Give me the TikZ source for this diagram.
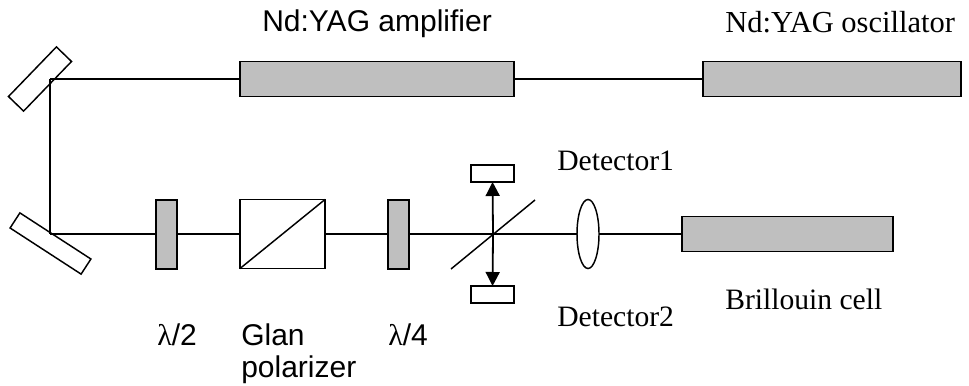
\documentclass[tikz,border=0pt]{standalone}
\usepackage{fontspec}
\usetikzlibrary{arrows.meta, shapes.geometric}
\setmainfont{Liberation Sans}
\newfontfamily\serifface{Liberation Serif}
\definecolor{rodgray}{gray}{0.75}
\tikzset{
	part/.style={draw=black, line width=1.3pt, inner sep=0pt, outer sep=0pt},
	rod/.style={part, fill=rodgray, minimum width=#1, minimum height=26.25pt},
	plate/.style={part, fill=rodgray, line width=1.5pt, minimum width=15.75pt, minimum height=51.75pt},
	mirror/.style={part, fill=white, line width=1.1pt},
	detbox/.style={part, fill=white, line width=1.1pt, minimum width=32.25pt, minimum height=12.75pt},
	sanslabel/.style={inner sep=0pt, anchor=base west, font=\fontsize{22.5}{26}\selectfont},
	seriflabel/.style={inner sep=0pt, anchor=base west, font=\serifface\fontsize{22.2}{26}\selectfont},
	beam/.style={line width=1.35pt}
}
\begin{document}
\begin{tikzpicture}[x=0.75pt,y=-0.75pt]
	\useasboundingbox (0,0) rectangle (969,385);
	\coordinate (hit1) at (50,79);
	\coordinate (hit2) at (50,234);
	\coordinate (bs) at (493,234);
	\coordinate (bs1) at (451,269);
	\coordinate (bs2) at (535,200);

	\node[mirror, minimum width=51.75pt, minimum height=15.75pt, rotate=46] (mirror1) at (40,79) {};
	\node[mirror, minimum width=63.5pt, minimum height=13.5pt, rotate=-33] (mirror2) at (50.5,243.5) {};

	\node[rod=205.5pt] (amp) at (377,79) {};
	\node[rod=194pt] (osc) at (832,79) {};
	\node[plate] (hwp) at (166.5,234) {};
	\node[part, fill=white, minimum width=63.75pt, minimum height=51.75pt] (glan) at (282.5,234) {};
	\node[plate] (qwp) at (398,234) {};
	\node[rod=158.25pt] (cell) at (787.5,234) {};
	\node[part, line width=1.1pt, fill=white, ellipse, minimum width=16.5pt, minimum height=51.75pt] (lens) at (588,234) {};
	\node[detbox] (det1) at (492.5,173.5) {};
	\node[detbox] (det2) at (492.5,294.5) {};

	\draw[beam] (osc) -- (amp);
	\draw[beam] (amp) -- (hit1);
	\draw[beam] (hit1) -- (hit2);
	\draw[beam] (hit2) -- (hwp);
	\draw[beam] (hwp) -- (glan);
	\draw[beam] (glan) -- (qwp);
	\draw[beam] (qwp) -- (bs);
	\draw[beam] (bs) -- (lens);
	\draw[beam] (lens) -- (cell);
	\draw[line width=1.1pt] (glan.south west) -- (glan.north east);
	\draw[line width=1.1pt] (bs1) -- (bs2);
	\draw[beam, -{Triangle[length=10.5pt,width=10.5pt]}] (bs) -- (det1);
	\draw[beam, -{Triangle[length=10.5pt,width=10.5pt]}] (bs) -- (det2);

	\node[sanslabel] (ampl) at (262,32) {Nd:YAG amplifier};
	\node[seriflabel, font=\serifface\fontsize{22.9}{26}\selectfont] (oscl) at (725,32.5) {Nd:YAG oscillator};
	\node[seriflabel] (det1l) at (557,170) {Detector1};
	\node[seriflabel] (det2l) at (557,326) {Detector2};
	\node[seriflabel] (celll) at (725,309) {Brillouin cell};
	\node[sanslabel] (hwpl) at (157,345) {{\serifface λ}/2};
	\node[sanslabel] (glanl) at (241,345) {Glan};
	\node[sanslabel] (poll) at (241,377) {polarizer};
	\node[sanslabel] (qwpl) at (388,345) {{\serifface λ}/4};
\end{tikzpicture}
\end{document}
